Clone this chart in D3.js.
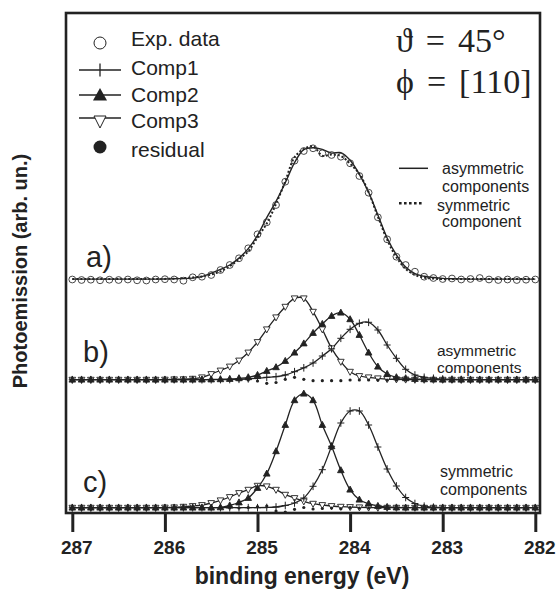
<!DOCTYPE html>
<html><head><meta charset="utf-8">
<script src="https://cdn.jsdelivr.net/npm/d3@7"></script>
<style>body{margin:0;background:#fff}</style>
</head><body><svg id="c" width="556" height="597"></svg>
<script>
// binding energies (eV), 0.1 eV steps
const energy = [287.0,286.9,286.8,286.7,286.6,286.5,286.4,286.3,286.2,286.1,
  286.0,285.9,285.8,285.7,285.6,285.5,285.4,285.3,285.2,285.1,
  285.0,284.9,284.8,284.7,284.6,284.5,284.4,284.3,284.2,284.1,
  284.0,283.9,283.8,283.7,283.6,283.5,283.4,283.3,283.2,283.1,
  283.0,282.9,282.8,282.7,282.6,282.5,282.4,282.3,282.2,282.1,282.0];
// a) experimental data
const expData = [0.5,0,0.3,-0.3,0.3,0,0.5,-0.3,-0.5,0.5,
  0.8,0.5,-0.7,2.7,3.3,5,10,15,21.7,31.7,
  45.7,57.7,75,98.3,119.3,129,131.7,126.7,125,123.3,
  116.7,104,87.3,62.7,40.7,23.3,15,8.3,3.3,2,
  1,1.5,0.5,1,2,0.5,0,0.5,0,0.3,0.5];
// b) asymmetric components
const comp1B = [0.3,0.3,0.3,0.3,0.3,0.3,0.3,0.3,0.3,0.3,
  0.3,0.3,0.3,0.3,0.3,0.3,0.4,0.5,0.7,1.2,
  1.7,2.7,3.3,5,8.3,12.2,17,24,31.2,41.7,
  50.7,56.7,57.7,50,35,21.7,10.7,5,2.7,1.7,
  1,0.7,0.5,0.3,0.3,0.3,0.3,0.3,0.3,0.3,0.3];
const comp2B = [0.3,0.3,0.3,0.3,0.3,0.3,0.3,0.3,0.3,0.3,
  0.3,0.3,0.3,0.3,0.4,0.5,0.7,1,1.7,2.7,
  5,9,12.7,19,27.3,36.5,47,56,64,67.3,
  60.7,45,27.3,13.3,6,2.7,1.7,1,0.7,0.5,
  0.3,0.3,0.3,0.3,0.3,0.3,0.3,0.3,0.3,0.3,0.3];
const comp3B = [0.3,0.3,0.3,0.3,0.3,0.3,0.3,0.3,0.3,0.3,
  0.4,0.7,0.8,1.3,2.7,6,9.5,13.5,19.5,27.5,
  38,50.7,62.7,73.3,81.7,81.7,68.3,50.7,31.7,18.3,
  8.3,4,2.7,1.7,1,0.7,0.5,0.3,0.3,0.3,
  0.3,0.3,0.3,0.3,0.3,0.3,0.3,0.3,0.3,0.3,0.3];
const residualB = [0,0,0,0,0,0,0,0,0,0,
  0,0,0,0,0,0,0,0,0,0,
  -1,-3.3,-2.5,0.7,2.7,0.7,-0.7,-0.7,-0.7,-0.7,
  0,0,0,0,0,0,0,0,0,0,
  0,0,0,0,0,0,0,0,0,0,0];
// c) symmetric components
const comp1C = [0.3,0.3,0.3,0.3,0.3,0.3,0.3,0.3,0.3,0.3,
  0.3,0.3,0.3,0.3,0.3,0.3,0.3,0.3,0.3,0.3,
  0.3,0.5,1,2.5,5,10,21.7,38.3,61.7,85,
  97,97,83,61,39,22,10.5,4.5,1.8,0.8,
  0.3,0.3,0.3,0.3,0.3,0.3,0.3,0.3,0.3,0.3,0.3];
const comp2C = [0.3,0.3,0.3,0.3,0.3,0.3,0.3,0.3,0.3,0.3,
  0.3,0.3,0.3,0.3,0.3,0.3,0.6,2.5,5.5,10,
  20,34.3,56.7,83,107.7,114.3,107.7,83,61.7,37.7,
  18.3,8.3,4.3,2,1,0.5,0.3,0.3,0.3,0.3,
  0.3,0.3,0.3,0.3,0.3,0.3,0.3,0.3,0.3,0.3,0.3];
const comp3C = [0.3,0.3,0.3,0.3,0.3,0.3,0.3,0.3,0.3,0.3,
  0.5,0.7,1.3,2,3,5,7.7,11,15,18.3,
  22.3,21.7,18.3,13.3,10,6.7,4.3,3,2,1.3,
  1,0.7,0.5,0.3,0.3,0.3,0.3,0.3,0.3,0.3,
  0.3,0.3,0.3,0.3,0.3,0.3,0.3,0.3,0.3,0.3,0.3];
const residualC = [0,0,0,0,0,0,0,0,0,0,
  0,0,0,0,0,0,0,0,0,0.5,
  1.3,2,-3,-4,-1.3,0.5,-1,-0.5,0,-0.7,
  0.5,0,0,0,0,0,0,0,0,0,
  0,0,0,0,0,0,0,0,0,0,0];
const tickValues = [287,286,285,284,283,282];
const legendLabels = ["Exp. data","Comp1","Comp2","Comp3","residual"];
const panelOffsets = {a:233, b:133, c:5};

const ink = "#222";
const svg = d3.select("#c");
const x = d3.scaleLinear().domain([287,282]).range([72.3,535.3]);
const y = d3.scaleLinear().domain([0,500]).range([513,13]);

// fits = sum of components
const fitAsym = energy.map((e,i)=>comp1B[i]+comp2B[i]+comp3B[i]);
const fitSym = energy.map((e,i)=>comp1C[i]+comp2C[i]+comp3C[i]);

function lineGen(off){
  return d3.line().x((d,i)=>x(energy[i])).y(d=>y(off+d)).curve(d3.curveCatmullRom.alpha(0.5));
}
const plot = svg.append("g");

const sym = {
  cross: "M-3.5,0H3.5M0,-3.8V3.8",
  up: "M0,-3.6L3.3,2.4L-3.3,2.4Z",
  down: "M0,3.6L3.3,-2.4L-3.3,-2.4Z"
};

function drawComp(data, off){
  plot.append("path").datum(data).attr("d", lineGen(off))
    .attr("fill","none").attr("stroke",ink).attr("stroke-width",1.3);
}
function drawMarks(data, off, kind){
  const g = plot.append("g");
  g.selectAll("path").data(data).join("path")
    .attr("transform",(d,i)=>`translate(${x(energy[i])},${y(off+d)})`)
    .attr("d", sym[kind])
    .attr("fill", kind==="up"?ink:(kind==="down"?"#fff":"none"))
    .attr("stroke", ink).attr("stroke-width", kind==="cross"?1:0.9);
}
function drawResidual(data, off){
  plot.append("g").selectAll("circle").data(data).join("circle")
    .attr("cx",(d,i)=>x(energy[i])).attr("cy",d=>y(off+d))
    .attr("r",1.6).attr("fill",ink);
}

// panel a
plot.append("path").datum(fitSym).attr("d", lineGen(panelOffsets.a))
  .attr("fill","none").attr("stroke",ink).attr("stroke-width",2).attr("stroke-dasharray","2,2");
plot.append("path").datum(fitAsym).attr("d", lineGen(panelOffsets.a))
  .attr("fill","none").attr("stroke",ink).attr("stroke-width",1.4);
plot.append("g").selectAll("circle").data(expData).join("circle")
  .attr("cx",(d,i)=>x(energy[i])).attr("cy",d=>y(panelOffsets.a+d))
  .attr("r",3.4).attr("fill","none").attr("stroke","#333").attr("stroke-width",0.9);

// panels b and c
[[comp1B,comp2B,comp3B,residualB,panelOffsets.b],[comp1C,comp2C,comp3C,residualC,panelOffsets.c]].forEach(([c1,c2,c3,r,off])=>{
  drawComp(c3,off); drawComp(c2,off); drawComp(c1,off);
  drawMarks(c3,off,"down");
  drawMarks(c2,off,"up");
  drawMarks(c1,off,"cross");
  drawResidual(r,off);
});

// frame
svg.append("rect").attr("x",66).attr("y",13).attr("width",474).attr("height",500)
  .attr("fill","none").attr("stroke",ink).attr("stroke-width",2.6);

// x axis
const ax = svg.append("g").attr("transform","translate(0,513)")
  .call(d3.axisBottom(x).tickValues(tickValues).tickSize(19).tickFormat(d3.format("d")));
ax.select(".domain").remove();
ax.selectAll(".tick line").attr("stroke",ink).attr("stroke-width",3);
ax.selectAll(".tick text").attr("y",41).attr("dy",0).attr("dx",4)
  .attr("fill",ink).style("font-family","Liberation Sans, Arial, sans-serif")
  .style("font-size","19px").style("font-weight","bold");

const sans = "Liberation Sans, Arial, sans-serif";
svg.append("text").attr("x",302).attr("y",584).attr("text-anchor","middle")
  .style("font-family",sans).style("font-size","23px").style("font-weight","bold").attr("fill",ink)
  .text("binding energy (eV)");
svg.append("text").attr("transform","translate(27,271) rotate(-90)").attr("text-anchor","middle")
  .style("font-family",sans).style("font-size","20px").style("font-weight","bold").attr("fill",ink)
  .text("Photoemission (arb. un.)");

// legend
const lg = svg.append("g");
const ly = [43, 70, 95, 118, 147];
const lb = [46, 75, 102, 128, 157];
legendLabels.forEach((t,i)=>{
  lg.append("text").attr("x",131).attr("y",lb[i]).text(t)
    .style("font-family",sans).style("font-size","21px").attr("fill",ink);
});
lg.append("circle").attr("cx",100).attr("cy",ly[0]).attr("r",6).attr("fill","none").attr("stroke",ink).attr("stroke-width",1);
[1,2,3].forEach(i=>{
  lg.append("line").attr("x1",79).attr("x2",121).attr("y1",ly[i]).attr("y2",ly[i]).attr("stroke",ink).attr("stroke-width",1.3);
});
lg.append("line").attr("x1",100).attr("x2",100).attr("y1",ly[1]-6.5).attr("y2",ly[1]+6.5).attr("stroke",ink).attr("stroke-width",1.3);
lg.append("path").attr("d",`M100,${ly[2]-7}L107,${ly[2]+5.5}L93,${ly[2]+5.5}Z`).attr("fill",ink);
lg.append("path").attr("d",`M100,${ly[3]+10}L106,${ly[3]-2}L94,${ly[3]-2}Z`).attr("fill","#fff").attr("stroke",ink).attr("stroke-width",1);
lg.append("circle").attr("cx",100).attr("cy",ly[4]).attr("r",6.5).attr("fill",ink);

// angles
const serif = "Liberation Serif, Times New Roman, DejaVu Serif, serif";
svg.append("text").attr("x",396).attr("y",52).style("font-family",serif).style("font-size","34px")
  .style("word-spacing","4.5px").attr("fill",ink).text("\u03D1 = 45\u00B0");
svg.append("text").attr("x",396).attr("y",93).style("font-family",serif).style("font-size","34px")
  .style("word-spacing","4.5px").attr("fill",ink).text("\u03D5 = [110]");

// line style legend
svg.append("line").attr("x1",399).attr("x2",428).attr("y1",168.3).attr("y2",168.3).attr("stroke",ink).attr("stroke-width",1.5);
svg.append("line").attr("x1",399).attr("x2",424).attr("y1",203.3).attr("y2",203.3).attr("stroke",ink).attr("stroke-width",2.6).attr("stroke-dasharray","2.6,2.4");
const small = [["asymmetric",442,173.5,16],["components",442,191.5,16],["symmetric",437,210.5,16],["component",442,227,16],
  ["asymmetric",437,356,15.5],["components",437,372.5,15.5],["symmetric",440,476.5,16],["components",440,494.5,16]];
small.forEach(([t,xx,yy,fs])=>svg.append("text").attr("x",xx).attr("y",yy).text(t)
  .style("font-family",sans).style("font-size",fs+"px").attr("fill",ink));

// panel labels
[["a)",86,267],["b)",83,362],["c)",83,492]].forEach(([t,xx,yy])=>svg.append("text").attr("x",xx).attr("y",yy).text(t)
  .style("font-family",sans).style("font-size","29px").attr("fill",ink));
</script></body></html>
